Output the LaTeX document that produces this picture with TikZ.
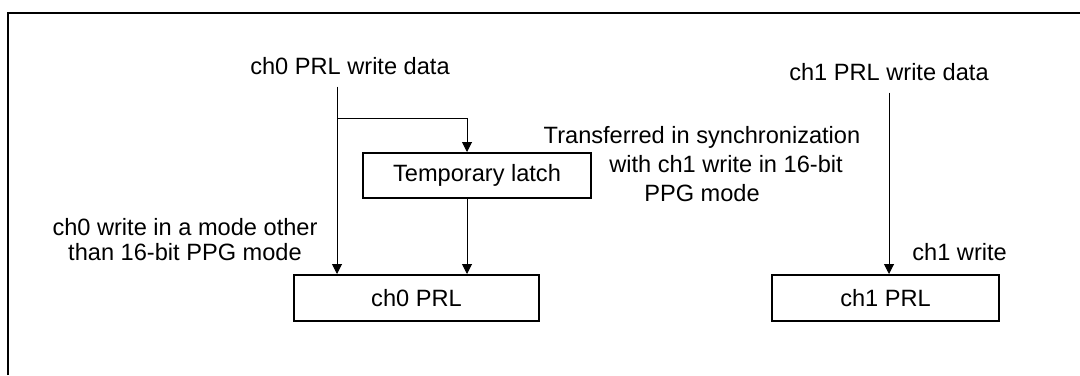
\documentclass[tikz,border=0pt]{standalone}
\usepackage{fontspec}
\setmainfont{Liberation Sans}
\usetikzlibrary{arrows.meta}

\begin{document}
\begin{tikzpicture}[
x=0.5pt, y=-0.5pt,
txt/.style={font=\fontsize{11.8}{12.5}\selectfont, inner sep=6pt},
regbox/.style={draw, line width=1pt, font=\fontsize{11.8}{12.5}\selectfont, inner sep=0pt},
arrow/.style={-{Triangle[length=5pt,width=5pt]}, line width=0.5pt}
]
\useasboundingbox (0,0) rectangle (1080,375);
\draw[line width=1pt] (8,375) -- (8,13) -- (1080,13);
\node[txt, anchor=base] (wr0) at (350,74) {ch0 PRL write data};
\node[txt, anchor=base] (wr1) at (889,80) {ch1 PRL write data};
\node[regbox, minimum width=114pt, minimum height=22.5pt] (latch) at (477,175.5) {Temporary latch};
\node[regbox, minimum width=122.5pt, minimum height=23pt] (ch0) at (416.5,298) {ch0 PRL};
\node[regbox, minimum width=113.5pt, minimum height=23pt] (ch1) at (885.5,298) {ch1 PRL};
\node[txt, align=center] (mode0) at (185,240) {ch0 write in a mode other\\than 16-bit PPG mode};
\node[txt, align=center, font=\fontsize{11.8}{14.6}\selectfont] (sync) at (702,164) {Transferred in synchronization\\\hspace*{24pt}with ch1 write in 16-bit\\PPG mode};
\node[txt, anchor=base west, inner sep=0pt] (wr1lbl) at (912,260) {ch1 write};
\coordinate (split) at (337,118);
\coordinate (tap) at (467,118);
\draw[arrow] (wr0.south -| split) -- (split |- ch0.north);
\draw[arrow] (split) -- (tap) -- (tap |- latch.north);
\draw[arrow] (tap |- latch.south) -- (tap |- ch0.north);
\draw[arrow] (wr1.south) -- (wr1.south |- ch1.north);
\end{tikzpicture}
\end{document}
